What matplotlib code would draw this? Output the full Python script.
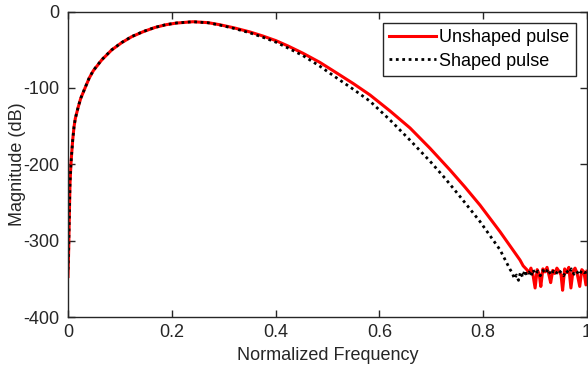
import matplotlib
matplotlib.use("Agg")
import matplotlib.pyplot as plt

# ---- data ----
freq_unshaped = [0.0, 0.0013, 0.0025, 0.0039, 0.0058, 0.0075, 0.0091, 0.0116, 0.0141,
                 0.0199, 0.0244, 0.0328, 0.041, 0.0488, 0.0649, 0.0841, 0.1034, 0.1227,
                 0.145, 0.1676, 0.1888, 0.2094, 0.2408, 0.27, 0.2929, 0.32,
                 0.3507, 0.375, 0.4008, 0.425, 0.4528, 0.485, 0.5177, 0.55, 0.5819,
                 0.6204, 0.659, 0.6975, 0.736, 0.765, 0.7938, 0.8324, 0.8709, 0.877,
                 0.884, 0.888, 0.892, 0.896, 0.900, 0.904, 0.908, 0.911, 0.915, 0.919,
                 0.923, 0.927, 0.930, 0.934, 0.938, 0.942, 0.946, 0.950, 0.953, 0.957,
                 0.961, 0.965, 0.969, 0.973, 0.977, 0.981, 0.986, 0.990, 0.994, 0.998, 1.0]
mag_unshaped = [-347, -312, -269, -224.5, -198, -182, -168, -151, -140,
                -124.6, -114, -100.2, -87, -77.5, -63.5, -50.4, -40.8, -33,
                -26.4, -20.9, -17.3, -15.1, -13.4, -14.6, -17.4, -21.4,
                -26.8, -32, -38.2, -45.5, -54.7, -66.5, -80.5, -94.5, -109.3,
                -130.2, -152.5, -179.1, -207.5, -230, -253.5, -288.3, -325.4, -333,
                -338, -342, -336, -345, -362, -338, -344, -360, -337, -341,
                -335, -346, -355, -339, -343, -336, -340, -345, -365, -337,
                -342, -335, -362, -340, -336, -343, -360, -338, -341, -358, -340]

freq_shaped = [0.0, 0.0013, 0.0025, 0.0039, 0.0058, 0.0075, 0.0091, 0.0116, 0.0141,
               0.0199, 0.0244, 0.0328, 0.041, 0.0488, 0.0649, 0.0841, 0.1034, 0.1227,
               0.145, 0.1676, 0.1888, 0.2094, 0.2408, 0.27, 0.2929, 0.32,
               0.3507, 0.375, 0.4008, 0.425, 0.4528, 0.485, 0.5177, 0.55, 0.5819,
               0.6204, 0.659, 0.6975, 0.726, 0.755, 0.7938, 0.8324, 0.852,
               0.856, 0.860, 0.864, 0.868, 0.872, 0.876, 0.880, 0.884, 0.888, 0.892,
               0.896, 0.900, 0.905, 0.910, 0.915, 0.920, 0.925, 0.930, 0.935, 0.940,
               0.945, 0.950, 0.955, 0.960, 0.965, 0.970, 0.975, 0.980, 0.985, 0.990,
               0.995, 1.0]
mag_shaped = [-338, -310, -268, -224, -198, -182, -168, -151, -140,
              -124.3, -113.8, -100, -86.7, -77.2, -63.2, -50.2, -40.6, -32.8,
              -26.2, -20.8, -17.2, -15, -13.4, -14.8, -17.8, -22.2,
              -28, -33.6, -40.2, -48.2, -57.8, -71.5, -87, -102, -117.5,
              -142, -168.5, -196, -218, -242, -275, -312, -338,
              -342, -350, -345, -352, -341, -348, -339, -345, -341, -347,
              -338, -344, -340, -346, -339, -343, -337, -345, -340, -344,
              -338, -342, -346, -339, -343, -337, -344, -340, -345, -339,
              -342, -341]

labels = ["Unshaped pulse", "Shaped pulse"]
xticks = [0, 0.2, 0.4, 0.6, 0.8, 1]
xticklabels = ["0", "0.2", "0.4", "0.6", "0.8", "1"]
yticks = [-400, -300, -200, -100, 0]

# ---- style ----
plt.rcParams["font.family"] = ["Liberation Sans", "DejaVu Sans"]
plt.rcParams["font.size"] = 13
plt.rcParams["axes.unicode_minus"] = False
axc = "#262626"

fig = plt.figure(figsize=(5.88, 3.69), dpi=100)
ax = fig.add_axes([68 / 588, 52 / 369, 519 / 588, 305.5 / 369])

ax.plot(freq_unshaped, mag_unshaped, color="#ff0000", lw=2.2, label=labels[0],
        solid_joinstyle="round")
ax.plot(freq_shaped, mag_shaped, color="black", lw=2.0, linestyle=(0, (1, 1.3)),
        label=labels[1])

ax.set_xlim(0, 1)
ax.set_ylim(-400, 0)
ax.set_xticks(xticks)
ax.set_xticklabels(xticklabels)
ax.set_yticks(yticks)
ax.set_xlabel("Normalized Frequency", color=axc, labelpad=4.5)
ax.set_ylabel("Magnitude (dB)", color=axc)
ax.yaxis.set_label_coords(-0.081, 0.5)

for s in ax.spines.values():
    s.set_color(axc)
    s.set_linewidth(1.0)
ax.tick_params(direction="in", length=5, width=1.0, colors=axc,
               top=True, right=True, labelcolor=axc)
ax.tick_params(axis="y", pad=6)
ax.tick_params(axis="x", pad=5)

leg = ax.legend(loc="upper right", bbox_to_anchor=(576 / 588, 346 / 369),
                bbox_transform=fig.transFigure, fancybox=False, framealpha=1,
                edgecolor=axc, handlelength=2.6, handletextpad=0.2,
                borderpad=0.35, labelspacing=0.35, borderaxespad=0)
leg.get_frame().set_linewidth(1.0)

fig.savefig("out.png", dpi=100)
